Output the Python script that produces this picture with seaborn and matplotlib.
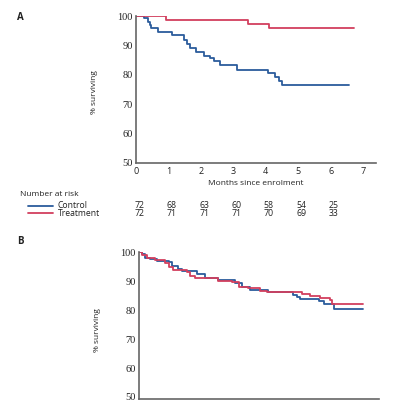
import numpy as np
import pandas as pd
import matplotlib
matplotlib.use("Agg")
import matplotlib.pyplot as plt
import matplotlib.transforms as mtransforms
from matplotlib.lines import Line2D
import seaborn as sns

# ---------------- data ----------------
groups = ["Control", "Treatment"]

# Panel A (Kaplan-Meier steps): event times (months) and survival (%)
a_ctrl_t = [0, 0.25, 0.36, 0.43, 0.47, 0.68, 1.12, 1.47, 1.58, 1.66, 1.85, 2.09,
            2.28, 2.42, 2.59, 3.12, 4.06, 4.29, 4.41, 4.49, 6.57]
a_ctrl_s = [100, 99.2, 98.1, 96.8, 95.8, 94.7, 93.4, 91.8, 90.6, 89.1, 87.7, 86.4,
            85.6, 84.7, 83.4, 81.7, 80.7, 79.4, 77.9, 76.4, 76.4]
a_trt_t = [0, 0.94, 3.46, 4.11, 6.73]
a_trt_s = [100, 98.6, 97.3, 95.8, 95.8]

# Panel B
b_ctrl_t = [0, 0.08, 0.19, 0.34, 0.55, 0.91, 1.01, 1.21, 1.32, 1.78, 2.04, 2.45,
            2.96, 3.17, 3.43, 3.99, 4.76, 4.87, 4.97, 5.54, 5.71, 6.00, 6.92]
b_ctrl_s = [100, 99.3, 98.1, 97.7, 97.0, 96.5, 95.4, 94.2, 93.5, 92.4, 91.2, 90.4,
            89.3, 88.1, 87.0, 86.4, 85.2, 84.6, 83.8, 83.1, 82.3, 80.3, 80.3]
b_trt_t = [0, 0.08, 0.24, 0.49, 0.80, 0.91, 1.06, 1.47, 1.57, 1.73, 2.45, 2.86,
           3.07, 3.37, 3.73, 3.94, 5.02, 5.28, 5.59, 5.89, 5.94, 6.92]
b_trt_s = [100, 99.1, 97.9, 97.3, 96.2, 95.0, 93.9, 93.1, 91.9, 91.0, 90.1, 89.6,
           88.1, 87.5, 86.6, 86.4, 85.5, 84.9, 84.3, 83.5, 82.3, 82.3]

risk_months = [0, 1, 2, 3, 4, 5, 6]
risk_ctrl = [72, 68, 63, 60, 58, 54, 25]
risk_trt = [72, 71, 71, 71, 70, 69, 33]

y_ticks = [50, 60, 70, 80, 90, 100]
x_ticks = [0, 1, 2, 3, 4, 5, 6, 7]

# ---------------- style ----------------
sns.set_theme(style="white")
plt.rcParams["font.family"] = ["Open Sans", "DejaVu Sans"]

BLUE = "#2b5c9c"
RED = "#d23f5e"
SPINE = "#666666"
TXT = "#222222"
palette = {"Control": BLUE, "Treatment": RED}


def make_df(ct, cs, tt, ts):
    return pd.concat([
        pd.DataFrame({"t": ct, "s": cs, "g": "Control"}),
        pd.DataFrame({"t": tt, "s": ts, "g": "Treatment"}),
    ], ignore_index=True)


dfA = make_df(a_ctrl_t, a_ctrl_s, a_trt_t, a_trt_s)
dfB = make_df(b_ctrl_t, b_ctrl_s, b_trt_t, b_trt_s)

fig = plt.figure(figsize=(4, 4), dpi=100)
axA = fig.add_axes([0.34, 0.5925, 0.6, 0.3675])
axB = fig.add_axes([0.3475, 0.0025, 0.6, 0.3668])

for ax, df, ylo in ((axA, dfA, 50), (axB, dfB, 49.3)):
    sns.lineplot(data=df, x="t", y="s", hue="g", palette=palette,
                 estimator=None, sort=False, drawstyle="steps-post",
                 linewidth=1.3, legend=False, ax=ax)
    ax.set_xlim(0, 7.4)
    ax.set_ylim(ylo, 100)
    for side in ("top", "right"):
        ax.spines[side].set_visible(False)
    for side in ("left", "bottom"):
        ax.spines[side].set_color(SPINE)
        ax.spines[side].set_linewidth(1.2)
    ax.set_yticks(y_ticks)
    ax.set_yticklabels([str(v) for v in y_ticks], family=["Liberation Serif"],
                       fontsize=7.5, color=TXT)
    ax.tick_params(axis="both", length=0, pad=2.5)
    ax.set_ylabel("% surviving", fontsize=6, color=TXT, labelpad=14)
    ax.set_facecolor("none")

axA.set_xticks(x_ticks)
axA.set_xticklabels([str(v) for v in x_ticks], fontsize=6.5, color=TXT)
axA.tick_params(axis="x", pad=3)
axA.set_xlabel("Months since enrolment", fontsize=6, color=TXT, labelpad=3)
axA.yaxis.set_label_coords(-0.16, 0.48)

axB.set_xticks(x_ticks)
axB.set_xticklabels([])
axB.set_xlabel("")
axB.yaxis.set_label_coords(-0.16, 0.47)

# panel letters
fig.text(17 / 400, 1 - 18 / 400, "A", fontsize=7, fontweight="bold", color=TXT, va="center")
fig.text(17 / 400, 1 - 241 / 400, "B", fontsize=7, fontweight="bold", color=TXT, va="center")

# number at risk table
fig.text(20 / 400, 1 - 194 / 400, "Number at risk", fontsize=6, color=TXT, va="center")
rows = [("Control", risk_ctrl, 205.7, BLUE), ("Treatment", risk_trt, 213.3, RED)]
blend = mtransforms.blended_transform_factory(axA.transData, fig.transFigure)
for name, vals, ypx, col in rows:
    yf = 1 - ypx / 400
    fig.add_artist(Line2D([28 / 400, 53 / 400], [yf, yf], color=col, linewidth=1.3,
                          transform=fig.transFigure))
    fig.text(58 / 400, yf, name, fontsize=6.2, color=TXT, va="center")
    for m, v in zip(risk_months, vals):
        axA.text(m + 0.1, yf, str(v), fontsize=6.3, color=TXT, ha="center", va="center",
                 transform=blend)

fig.savefig("out.png", dpi=100)
